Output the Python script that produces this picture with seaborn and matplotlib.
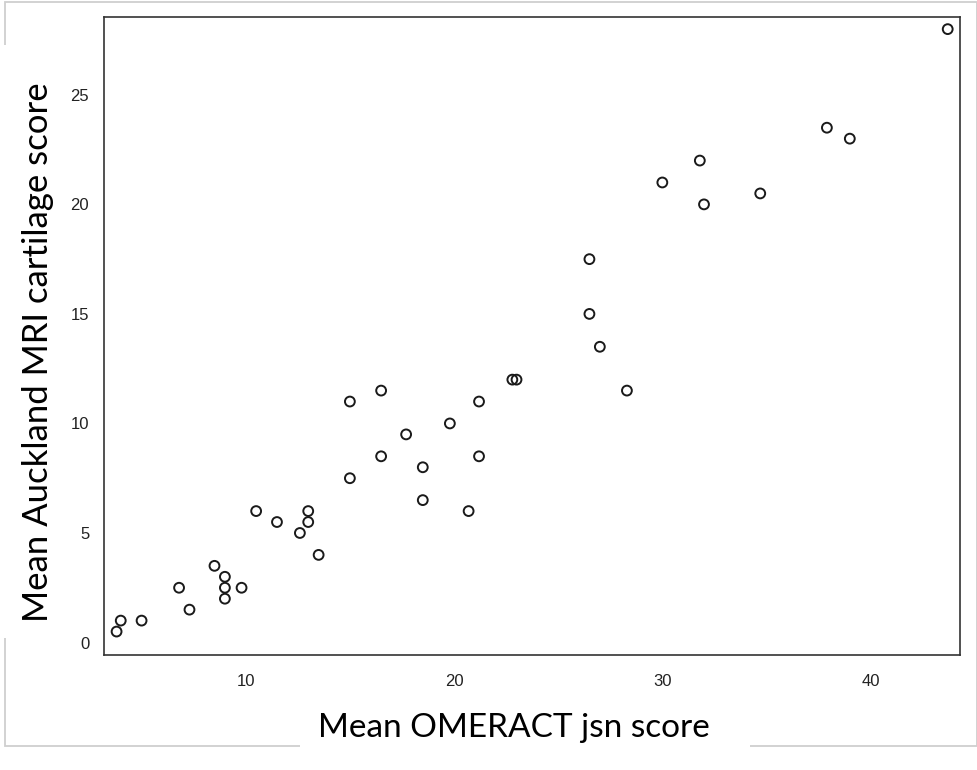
import matplotlib
matplotlib.use("Agg")
import matplotlib.pyplot as plt
import seaborn as sns
import pandas as pd
from matplotlib.patches import Rectangle

# Data
omeract_jsn = [3.8, 4.0, 5.0, 6.8, 7.3, 8.5, 9.0, 9.0, 9.0, 9.8,
               10.5, 11.5, 12.6, 13.0, 13.0, 13.5, 15.0, 16.5, 15.0, 16.5,
               17.7, 18.5, 18.5, 19.8, 20.7, 21.2, 21.2, 22.8, 23.0, 27.0,
               28.3, 26.5, 26.5, 30.0, 31.8, 32.0, 34.7, 37.9, 39.0, 43.7]
auckland_mri = [0.5, 1.0, 1.0, 2.5, 1.5, 3.5, 3.0, 2.5, 2.0, 2.5,
                6.0, 5.5, 5.0, 6.0, 5.5, 4.0, 11.0, 11.5, 7.5, 8.5,
                9.5, 8.0, 6.5, 10.0, 6.0, 11.0, 8.5, 12.0, 12.0, 13.5,
                11.5, 17.5, 15.0, 21.0, 22.0, 20.0, 20.5, 23.5, 23.0, 28.0]
x_ticks = [10, 20, 30, 40]
y_ticks = [0, 5, 10, 15, 20, 25]
x_title = "Mean OMERACT jsn score"
y_title = "Mean Auckland MRI cartilage score"

df = pd.DataFrame({"jsn": omeract_jsn, "mri": auckland_mri})

sns.set_style("white")
plt.rcParams["font.family"] = ["Liberation Sans", "DejaVu Sans"]

W, H = 978, 770
fig = plt.figure(figsize=(W / 100, H / 100), dpi=100)
fig.patch.set_facecolor("white")

def px_rect(x0, y0, x1, y1):
    # convert pixel box (top-left origin) to figure fraction
    return (x0 / W, 1 - y1 / H, (x1 - x0) / W, (y1 - y0) / H)

# light gray outer frame
fx, fy, fw, fh = px_rect(5, 2, 977, 746)
fig.add_artist(Rectangle((fx, fy), fw, fh, transform=fig.transFigure,
                         fill=False, edgecolor="#cfcfcf", linewidth=1.3, zorder=0))

ax = fig.add_axes(px_rect(104.5, 17.3, 960, 655))
sns.scatterplot(data=df, x="jsn", y="mri", ax=ax, marker="o", s=50,
                facecolor="none", edgecolor="#1a1a1a", linewidth=1.4, zorder=3)

ax.set_xlim(3.22, 44.29)
ax.set_ylim(-0.57, 28.54)
ax.set_xticks(x_ticks)
ax.set_yticks(y_ticks)
ax.set_xticklabels([str(t) for t in x_ticks])
ax.set_yticklabels([str(t) for t in y_ticks])
ax.set_xlabel("")
ax.set_ylabel("")
for sp in ax.spines.values():
    sp.set_visible(True)
    sp.set_color("#333333")
    sp.set_linewidth(1.2)
ax.tick_params(axis="both", which="major", length=6, width=1.0, color="#333333",
               labelsize=12, labelcolor="#222222", direction="out")
ax.tick_params(axis="x", pad=8)
ax.tick_params(axis="y", pad=5)
ax.grid(False)

# white boxes hiding parts of frame behind titles
for (a, b, c, d) in [(0, 45, 22, 638), (300, 700, 750, 770)]:
    rx, ry, rw, rh = px_rect(a, b, c, d)
    fig.add_artist(Rectangle((rx, ry), rw, rh, transform=fig.transFigure,
                             facecolor="white", edgecolor="none", zorder=1))

fig.text(513.5 / W, 1 - 737 / H, x_title, ha="center", va="baseline",
         fontsize=24, family=["Lato", "DejaVu Sans"], color="black", zorder=2)
fig.text(48 / W, 1 - 352.5 / H, y_title, ha="center", va="baseline", rotation=90,
         rotation_mode="anchor", fontsize=25, family=["Lato", "DejaVu Sans"],
         color="black", zorder=2)

fig.savefig("out.png", dpi=100)
